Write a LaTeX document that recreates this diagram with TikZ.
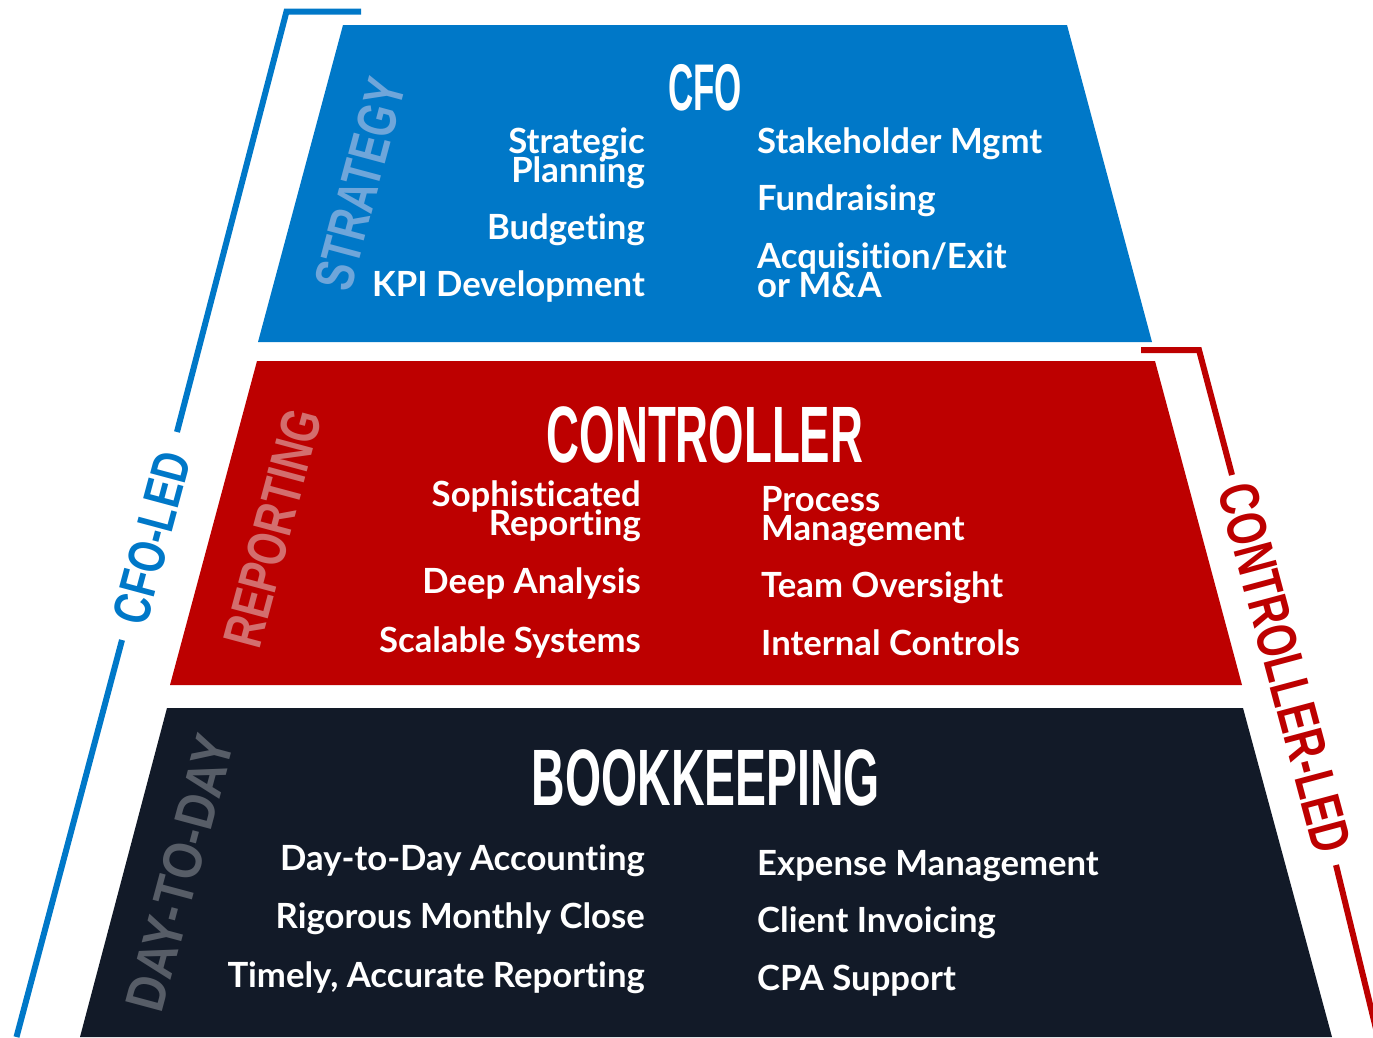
\documentclass[tikz,border=0pt]{standalone}
\usepackage{fontspec}
\usepackage{graphicx}
\newfontfamily\bodyfont{Lato}[Ligatures={NoCommon}]
\newfontfamily\headfont{Liberation Sans}
\definecolor{cfoblue}{HTML}{0078C8}
\definecolor{ctrlred}{HTML}{BD0000}
\definecolor{bookdark}{HTML}{121A28}
\definecolor{stratlbl}{HTML}{6FA6DA}
\definecolor{replbl}{HTML}{D36E6E}
\definecolor{daylbl}{HTML}{575D67}
\newcommand{\condense}[2]{\scalebox{#1}[1]{#2}}
\setlength{\lineskiplimit}{-100pt}
\begin{document}
\begin{tikzpicture}[x=1pt,y=-1pt,
  item/.style={text=white,font=\bodyfont\bfseries\fontsize{34.7}{29}\selectfont,inner sep=0pt},
  litem/.style={item,anchor=base east,align=right},
  ritem/.style={item,anchor=base west,align=left},
  titletext/.style={text=white,inner sep=0pt,anchor=base},
  sidelbl/.style={inner sep=0pt,anchor=center},
  bracket/.style={line width=6pt,line cap=butt}
]
\useasboundingbox[fill=white] (0,0) rectangle (1373,1037);

% tiers
\fill[cfoblue] (343,25) -- (1067,25) -- (1152,342) -- (258,342) -- cycle;
\fill[ctrlred] (257,361) -- (1155,361) -- (1242,685) -- (170,685) -- cycle;
\fill[bookdark] (167,708) -- (1243,708) -- (1332,1037) -- (80,1037) -- cycle;

% titles
\node[titletext] (cfo) at (705,110) {\condense{0.53}{\headfont\bfseries\fontsize{66}{66}\selectfont CFO}};
\node[titletext] (controller) at (705,462) {\condense{0.57}{\headfont\bfseries\fontsize{80}{80}\selectfont CONTROLLER}};
\node[titletext] (bookkeeping) at (706,805) {\condense{0.58}{\headfont\bfseries\fontsize{80}{80}\selectfont BOOKKEEPING}};

% side labels inside tiers
\node[sidelbl,rotate=75,text=stratlbl] (strategy) at (360,184) {\condense{0.73}{\headfont\bfseries\fontsize{55}{55}\selectfont STRATEGY}};
\node[sidelbl,rotate=75,text=replbl] (reporting) at (273,528) {\condense{0.745}{\headfont\bfseries\fontsize{55}{55}\selectfont REPORTING}};
\node[sidelbl,rotate=75,text=daylbl] (daytoday) at (180,873) {\condense{0.855}{\headfont\bfseries\fontsize{55}{55}\selectfont DAY-TO-DAY}};

% CFO items (base anchor = baseline of last line)
\node[litem] (strat) at (645,182) {Strategic\\Planning};
\node[litem] (budget) at (645,239) {Budgeting};
\node[litem] (kpi) at (645,296) {KPI Development};
\node[ritem] (stake) at (757,153) {Stakeholder Mgmt};
\node[ritem] (fund) at (757,210) {Fundraising};
\node[ritem] (acq) at (757,297) {Acquisition/Exit\\or M\&A};

% Controller items
\node[litem] (soph) at (641,535) {Sophisticated\\Reporting};
\node[litem] (deep) at (641,593) {Deep Analysis};
\node[litem] (scal) at (641,652) {Scalable Systems};
\node[ritem] (proc) at (761,540) {Process\\Management};
\node[ritem] (team) at (761,597) {Team Oversight};
\node[ritem] (intc) at (761,655) {Internal Controls};

% Bookkeeping items
\node[litem] (dtd) at (645,870) {Day-to-Day Accounting};
\node[litem] (rig) at (645,928) {Rigorous Monthly Close};
\node[litem] (tim) at (645,987) {Timely, Accurate Reporting};
\node[ritem] (exp) at (757,875) {Expense Management};
\node[ritem] (cli) at (757,932) {Client Invoicing};
\node[ritem] (cpa) at (757,990) {CPA Support};

% CFO-led bracket
\coordinate (b1) at (361,11.5);
\coordinate (b2) at (286.5,11.5);
\coordinate (b3) at (177,432);
\coordinate (b4) at (122,640);
\coordinate (b5) at (16.5,1037);
\draw[cfoblue,bracket] (b1) -- (b2) -- (b3);
\draw[cfoblue,bracket] (b4) -- (b5);
\node[sidelbl,rotate=75,text=cfoblue] (cfoled) at (152,538) {\condense{0.76}{\headfont\bfseries\fontsize{52}{52}\selectfont CFO-LED}};

% Controller-led bracket
\coordinate (r1) at (1141,350);
\coordinate (r2) at (1199,350);
\coordinate (r3) at (1232,475);
\coordinate (r4) at (1336,865);
\coordinate (r5) at (1378,1037);
\draw[ctrlred,bracket] (r1) -- (r2) -- (r3);
\draw[ctrlred,bracket] (r4) -- (r5);
\node[sidelbl,rotate=-75,text=ctrlred] (ctrlled) at (1285,668) {\condense{0.73}{\headfont\bfseries\fontsize{56}{56}\selectfont CONTROLLER-LED}};
\end{tikzpicture}
\end{document}
